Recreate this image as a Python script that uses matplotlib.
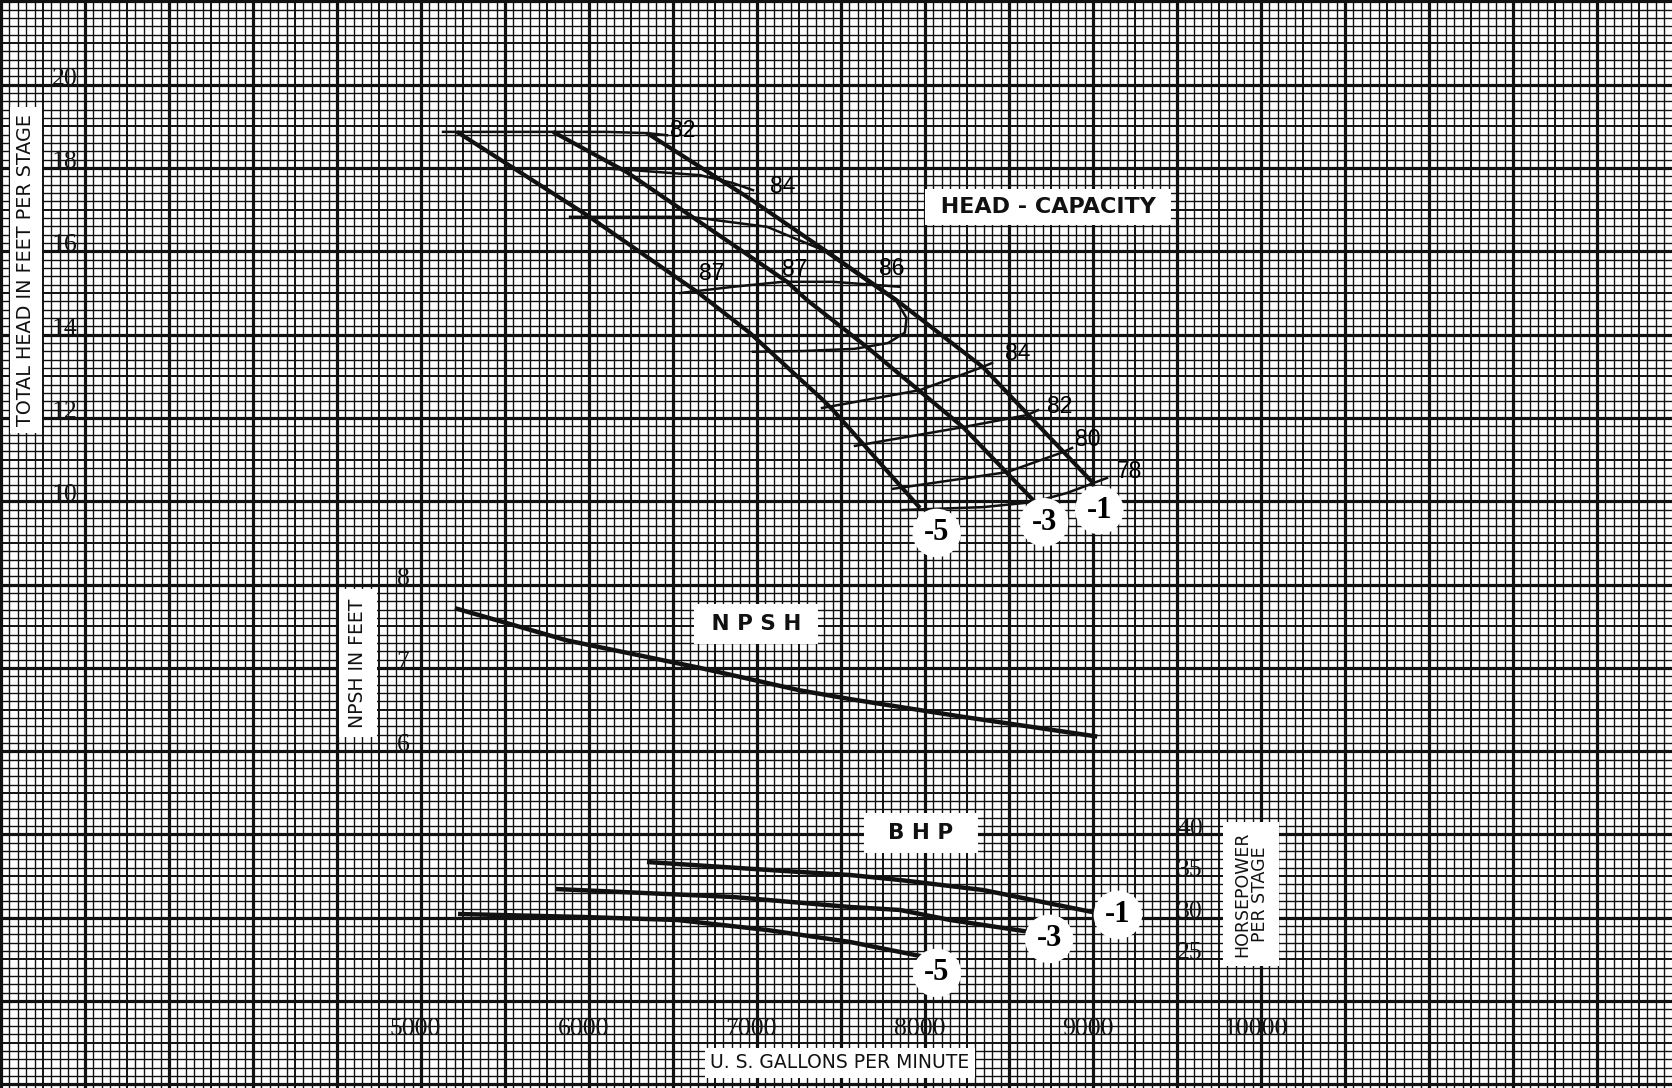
import numpy as np
import matplotlib
matplotlib.use("Agg")
import matplotlib.pyplot as plt

# --- head-capacity curves (gpm, ft per stage), one per impeller trim ---
gpm_head_5 = [5214, 5988, 6643, 6958, 7393, 7452, 7970]
head_5 = [18.87, 16.87, 15.03, 14.04, 12.43, 12.19, 9.84]
gpm_head_3 = [5786, 6226, 7179, 7298, 7655, 8226, 8655]
head_3 = [18.87, 17.90, 15.27, 14.83, 13.70, 11.78, 9.98]
gpm_head_1 = [6345, 6940, 7417, 7830, 8345, 9000]
head_1 = [18.84, 17.31, 15.99, 14.83, 13.22, 10.44]

# --- iso-efficiency lines ---
eff82_top_q = [5131, 6100, 6345, 6464]
eff82_top_h = [18.87, 18.87, 18.84, 18.79]
eff84_top_q = [6065, 6262, 6661, 6857, 6976]
eff84_top_h = [18.00, 17.95, 17.83, 17.64, 17.47]
eff86_q = [5887, 6601, 7060, 7393, 7650, 7830, 7890, 7880, 7780, 7580, 7280, 6976]
eff86_h = [16.83, 16.83, 16.59, 16.03, 15.30, 14.80, 14.40, 14.05, 13.80, 13.66, 13.61, 13.59]
eff87_q = [6542, 6857, 7155, 7452, 7851]
eff87_h = [15.00, 15.15, 15.27, 15.27, 15.15]
eff84_low_q = [7387, 7970, 8327, 8399]
eff84_low_h = [12.24, 12.67, 13.20, 13.32]
eff82_low_q = [7583, 8226, 8607, 8673]
eff82_low_h = [11.33, 11.78, 12.07, 12.19]
eff80_q = [7810, 8488, 8821, 8875]
eff80_h = [10.30, 10.70, 11.18, 11.28]
eff78_q = [7863, 8345, 8643, 8845, 9083]
eff78_h = [9.79, 9.86, 9.98, 10.20, 10.56]

# --- NPSH required ---
npsh_q = [5214, 5869, 6661, 7256, 7571, 8202, 9012]
npsh_ft = [7.71, 7.33, 7.00, 6.73, 6.62, 6.42, 6.18]

# --- brake horsepower per stage ---
bhp_q_1 = [6345, 7256, 7554, 7851, 8345, 9024]
bhp_1 = [36.70, 35.50, 35.14, 34.54, 33.34, 30.58]
bhp_q_3 = [5798, 6857, 7554, 7851, 8149, 8625]
bhp_3 = [33.46, 32.50, 31.30, 30.94, 29.74, 28.30]
bhp_q_5 = [5220, 5964, 6524, 7060, 7554, 8000]
bhp_5 = [30.46, 30.10, 29.74, 28.54, 27.10, 25.30]

head_ticks = [10, 12, 14, 16, 18, 20]
npsh_ticks = [6, 7, 8]
hp_ticks = [25, 30, 35, 40]
gpm_ticks = [5000, 6000, 7000, 8000, 9000, 10000]

INK = "#111111"
SERIF = "Liberation Serif"
SANS = "DejaVu Sans"

fig = plt.figure(figsize=(16.72, 10.88), dpi=100, facecolor="white")
ax = fig.add_axes([0, 0, 1, 1])
ax.set_xlim(2494, 12446)
ax.set_ylim(-4.087, 22.036)
ax.set_axis_off()

# graph paper: 10 squares per major block, heavier every 5
idx = np.arange(0, 201)
q_grid = 2500 + 50 * idx
heavy = idx % 10 == 0
mid = (idx % 5 == 0) & ~heavy
light = ~(heavy | mid)
for sel, lw in [(light, 1.0), (mid, 1.4), (heavy, 2.3)]:
    ax.vlines(q_grid[sel], -5, 23, color=INK, lw=lw, zorder=1)
jdx = np.arange(0, 132)
h_grid = 22 - 0.2 * jdx
heavy = jdx % 10 == 0
mid = (jdx % 5 == 0) & ~heavy
light = ~(heavy | mid)
for sel, lw in [(light, 1.0), (mid, 1.4), (heavy, 2.3)]:
    ax.hlines(h_grid[sel], 2400, 12600, color=INK, lw=lw, zorder=1)

# head-capacity curves
circle = dict(boxstyle="circle,pad=0.32", fc="white", ec="none")
for q, h, lab, off in [(gpm_head_5, head_5, "-5", (12, -18)),
                       (gpm_head_3, head_3, "-3", (6.5, -14.5)),
                       (gpm_head_1, head_1, "-1", (4.5, -19.5))]:
    ax.plot(q, h, color=INK, lw=3.0, zorder=3, solid_capstyle="butt")
    ax.annotate(lab, (q[-1], h[-1]), xytext=off, textcoords="offset points",
                ha="center", va="center", family=SERIF, fontsize=22,
                fontweight="bold", bbox=circle, zorder=5)

def eff_line(q, h, labels):
    ax.plot(q, h, color=INK, lw=1.8, zorder=3)
    for lab, i, off in labels:
        ax.annotate(lab, (q[i], h[i]), xytext=off, textcoords="offset points",
                    ha="center", va="center", family="Liberation Sans",
                    fontsize=16.5, zorder=4)

eff_line(eff82_top_q, eff82_top_h, [("82", -1, (11.5, 3.6))])
eff_line(eff84_top_q, eff84_top_h, [("84", -1, (21.6, 2.9))])
eff_line(eff86_q, eff86_h, [("86", 4, (18.7, 9.0))])
eff_line(eff87_q, eff87_h, [("87", 0, (23, 14.4)), ("87", 2, (8.6, 8.6))])
eff_line(eff84_low_q, eff84_low_h, [("84", -1, (18.7, 7.2))])
eff_line(eff82_low_q, eff82_low_h, [("82", -1, (15.8, 2.9))])
eff_line(eff80_q, eff80_h, [("80", -1, (11.5, 5.8))])
eff_line(eff78_q, eff78_h, [("78", -1, (16.6, 4.3))])

# tick numbers printed on the paper
ytr = ax.get_yaxis_transform()
for v in head_ticks:
    ax.text(0.0389, v, str(v), transform=ytr, ha="center", va="baseline",
            family=SERIF, fontsize=18.5, color=INK, zorder=2)
xtr = ax.get_xaxis_transform()
for v in gpm_ticks:
    ax.annotate(str(v), (v, 0.0487), xycoords=xtr, xytext=(-4, 0),
                textcoords="offset points", ha="center", va="baseline",
                family=SERIF, fontsize=18.5, color=INK, zorder=2)

# NPSH on its own scale
ax_n = ax.twinx()
ax_n.set_ylim(1.957, 15.018)
ax_n.set_axis_off()
ax_n.plot(npsh_q, npsh_ft, color=INK, lw=3.2, zorder=3)
ntr = ax_n.get_yaxis_transform()
for v in npsh_ticks:
    ax_n.text(0.241, v, str(v), transform=ntr, ha="center", va="baseline",
              family=SERIF, fontsize=18.5, color=INK, zorder=2)

# BHP on its own scale
ax_p = ax.twinx()
ax_p.set_ylim(9.57, 140.18)
ax_p.set_axis_off()
for q, p, lab, off in [(bhp_q_1, bhp_1, "-1", (15, -1.4)),
                       (bhp_q_3, bhp_3, "-3", (13.7, -5)),
                       (bhp_q_5, bhp_5, "-5", (8.6, -11.5))]:
    ax_p.plot(q, p, color=INK, lw=3.2, zorder=3, solid_capstyle="butt")
    ax_p.annotate(lab, (q[-1], p[-1]), xytext=off, textcoords="offset points",
                  ha="center", va="center", family=SERIF, fontsize=22,
                  fontweight="bold", bbox=circle, zorder=5)
ptr = ax_p.get_yaxis_transform()
for v in hp_ticks:
    ax_p.text(0.7117, v, str(v), transform=ptr, ha="center", va="baseline",
              family=SERIF, fontsize=18.5, color=INK, zorder=2)

# titles in white boxes
def box(x, y, s, size, pad, rot=0, ls=1.2, weight="bold"):
    ax_p.text(x, y, s, transform=ax_p.transAxes, ha="center", va="center",
              family=SANS, fontsize=size, fontweight=weight, rotation=rot,
              color=INK, linespacing=ls, zorder=6,
              bbox=dict(boxstyle=f"square,pad={pad}", fc="white", ec="none"))

box(0.6268, 0.8097, " HEAD - CAPACITY ", 16, 0.35)
box(0.4522, 0.4265, " N P S H ", 15.5, 0.45)
box(0.5508, 0.2344, "  B H P  ", 15.5, 0.45)
box(0.5024, 0.0230, "U. S. GALLONS PER MINUTE", 13.5, 0.3, weight="normal")
box(0.01555, 0.7518, "TOTAL HEAD IN FEET PER STAGE", 13.8, 0.35, rot=90,
    weight="normal")
box(0.2141, 0.3906, "NPSH IN FEET", 13.5, 0.5, rot=90, weight="normal")
box(0.7482, 0.1783, "HORSEPOWER\nPER STAGE", 12.5, 0.55, rot=90, ls=1.0,
    weight="normal")

fig.savefig("out.png", dpi=100, facecolor="white")
